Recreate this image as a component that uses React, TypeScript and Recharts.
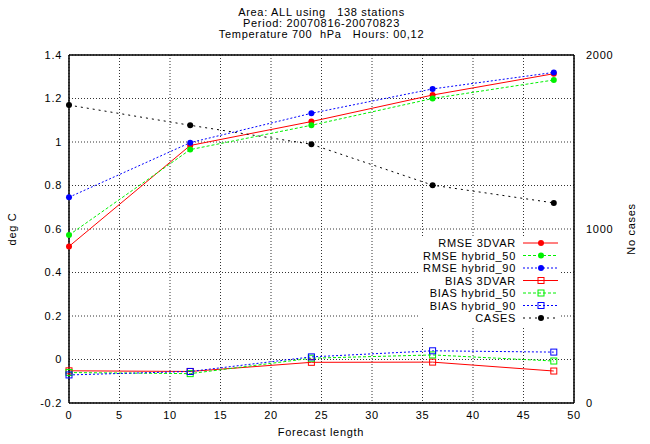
import {
  ComposedChart,
  Line,
  XAxis,
  YAxis,
  CartesianGrid,
  Legend,
  ReferenceLine,
} from "recharts";

const forecastLength = [0, 12, 24, 36, 48];
const rmse3dvar = [0.52, 0.984, 1.094, 1.216, 1.314];
const rmseHybrid50 = [0.572, 0.965, 1.077, 1.2, 1.285];
const rmseHybrid90 = [0.746, 0.997, 1.132, 1.244, 1.32];
const bias3dvar = [-0.052, -0.055, -0.013, -0.012, -0.053];
const biasHybrid50 = [-0.06, -0.065, 0.006, 0.021, -0.007];
const biasHybrid90 = [-0.071, -0.055, 0.012, 0.04, 0.034];
const cases = [1712, 1596, 1487, 1252, 1150];

const xTicks = [0, 5, 10, 15, 20, 25, 30, 35, 40, 45, 50];
const yTicks = [-0.2, 0, 0.2, 0.4, 0.6, 0.8, 1, 1.2, 1.4];
const caseTicks = [0, 1000, 2000];

const titleLines = [
  "Area: ALL using   138 stations",
  "Period: 20070816-20070823",
  "Temperature 700  hPa   Hours: 00,12",
];

const RED = "#ff0000";
const GREEN = "#00f000";
const BLUE = "#0000ff";
const BLACK = "#000000";

const data = forecastLength.map((f, i) => ({
  f,
  rmse3dvar: rmse3dvar[i],
  rmseHybrid50: rmseHybrid50[i],
  rmseHybrid90: rmseHybrid90[i],
  bias3dvar: bias3dvar[i],
  biasHybrid50: biasHybrid50[i],
  biasHybrid90: biasHybrid90[i],
  cases: cases[i],
}));

type Marker = "circle" | "square";

const series: {
  key: string;
  name: string;
  color: string;
  dash?: string;
  marker: Marker;
  axis: string;
}[] = [
  { key: "rmse3dvar", name: "RMSE 3DVAR", color: RED, marker: "circle", axis: "left" },
  { key: "rmseHybrid50", name: "RMSE hybrid_50", color: GREEN, dash: "3 2", marker: "circle", axis: "left" },
  { key: "rmseHybrid90", name: "RMSE hybrid_90", color: BLUE, dash: "2 2", marker: "circle", axis: "left" },
  { key: "bias3dvar", name: "BIAS 3DVAR", color: RED, marker: "square", axis: "left" },
  { key: "biasHybrid50", name: "BIAS hybrid_50", color: GREEN, dash: "3 2", marker: "square", axis: "left" },
  { key: "biasHybrid90", name: "BIAS hybrid_90", color: BLUE, dash: "2 2", marker: "square", axis: "left" },
  { key: "cases", name: "CASES", color: BLACK, dash: "2 4", marker: "circle", axis: "right" },
];

function drawMarker(marker: Marker, color: string, cx: number, cy: number, key?: string) {
  if (marker === "circle") {
    return <circle key={key} cx={cx} cy={cy} r={3} fill={color} stroke="none" />;
  }
  return (
    <rect key={key} x={cx - 3} y={cy - 3} width={6} height={6} fill="none" stroke={color} strokeWidth={1} />
  );
}

const fmtY = (v: number) => {
  const s = Number(v.toFixed(1)).toString();
  return s === "-0" ? "0" : s;
};

function KeyBox() {
  const rowH = 12.5;
  return (
    <div style={{ background: "#fff", width: 140, height: 90 }}>
      <svg width={140} height={90} style={{ display: "block" }}>
        {series.map((s, i) => {
          const y = 7 + i * rowH;
          return (
            <g key={s.key}>
              <text x={96} y={y + 4} textAnchor="end" fontSize={11} fill="#000">
                {s.name}
              </text>
              <line x1={103} x2={138} y1={y} y2={y} stroke={s.color} strokeDasharray={s.dash} />
              {drawMarker(s.marker, s.color, 121, y)}
            </g>
          );
        })}
      </svg>
    </div>
  );
}

export default function App() {
  return (
    <div
      style={{
        position: "absolute",
        left: 0,
        top: 0,
        width: 650,
        height: 444,
        background: "#fff",
        fontFamily: "'Liberation Sans', Arial, sans-serif",
        letterSpacing: "0.7px",
      }}
    >
      <ComposedChart
        width={650}
        height={444}
        data={data}
        margin={{ top: 55, right: 16, bottom: 11, left: 8 }}
      >
        <CartesianGrid yAxisId="left" stroke="#333" strokeDasharray="1 2" />
        <XAxis
          dataKey="f"
          type="number"
          domain={[0, 50]}
          ticks={xTicks}
          interval={0}
          height={30}
          tickLine={false}
          tickSize={0}
          tickMargin={8}
          axisLine={{ stroke: "#000", strokeWidth: 1.5 }}
          tick={{ fontSize: 11, fill: "#000" }}
        />
        <YAxis
          yAxisId="left"
          domain={[-0.2, 1.4]}
          ticks={yTicks}
          interval={0}
          allowDataOverflow
          width={61}
          tickLine={false}
          tickSize={0}
          tickMargin={7}
          tickFormatter={fmtY}
          axisLine={{ stroke: "#000", strokeWidth: 1.5 }}
          tick={{ fontSize: 11, fill: "#000" }}
        />
        <YAxis
          yAxisId="right"
          orientation="right"
          domain={[0, 2000]}
          ticks={caseTicks}
          interval={0}
          allowDataOverflow
          width={60}
          tickLine={false}
          tickSize={0}
          tickMargin={12}
          axisLine={{ stroke: "#000", strokeWidth: 1.5 }}
          tick={{ fontSize: 11, fill: "#000", textAnchor: "start" }}
        />
        <ReferenceLine yAxisId="left" y={1.4} stroke="#000" strokeWidth={1.5} />
        {series.map((s) => (
          <Line
            key={s.key}
            yAxisId={s.axis}
            dataKey={s.key}
            name={s.name}
            type="linear"
            stroke={s.color}
            strokeWidth={1}
            strokeDasharray={s.dash}
            isAnimationActive={false}
            dot={(p: any) => drawMarker(s.marker, s.color, p.cx, p.cy, `${s.key}-${p.index}`)}
            activeDot={false}
          />
        ))}
        <Legend
          layout="horizontal"
          verticalAlign="middle"
          align="center"
          wrapperStyle={{ left: 420, top: 236, width: 140, height: 90 }}
          content={() => <KeyBox />}
        />
      </ComposedChart>
      <svg
        width={650}
        height={444}
        style={{ position: "absolute", left: 0, top: 0, pointerEvents: "none" }}
      >
        {titleLines.map((t, i) => (
          <text key={t} x={321.5} y={16 + i * 11} textAnchor="middle" fontSize={11} fill="#000" style={{ whiteSpace: "pre" }}>
            {t}
          </text>
        ))}
        <text x={16} y={229} transform="rotate(-90 16 229)" textAnchor="middle" fontSize={11} fill="#000">
          deg C
        </text>
        <text x={635} y={229} transform="rotate(-90 635 229)" textAnchor="middle" fontSize={11} fill="#000">
          No cases
        </text>
        <text x={321} y={436} textAnchor="middle" fontSize={11} fill="#000">
          Forecast length
        </text>
      </svg>
    </div>
  );
}
